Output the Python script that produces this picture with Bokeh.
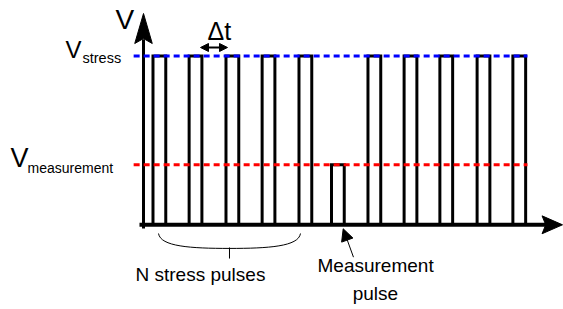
from bokeh.plotting import figure
from bokeh.models import Range1d, Arrow, NormalHead
from bokeh.embed import file_html
from bokeh.resources import INLINE
from bokeh.core.properties import value

# ---- data (time in pulse-period units, voltage normalised to V_stress) ----
pulse_start = [0.26, 1.25, 2.26, 3.25, 4.26, 5.15, 6.15, 7.14, 8.12, 9.14, 10.12]
pulse_kind = ["stress"] * 5 + ["measurement"] + ["stress"] * 5
pulse_width = 0.35
v_stress = 1.0
v_measurement = 0.356
level_span = [-0.27, 10.52]

FONT = "Liberation Sans"
DY = 0.047  # baseline correction for text placement

p = figure(width=563, height=309, output_backend="svg", toolbar_location=None,
           x_range=Range1d(-3.918, 11.507), y_range=Range1d(-0.5021, 1.3296),
           min_border=0, outline_line_color=None)
p.axis.visible = False
p.grid.visible = False
p.background_fill_color = "white"

# pulses
xs, ys = [], []
for s, k in zip(pulse_start, pulse_kind):
    lvl = v_stress if k == "stress" else v_measurement
    xs.append([s, s, s + pulse_width, s + pulse_width])
    ys.append([0, lvl, lvl, 0])
p.multi_line(xs, ys, line_color="black", line_width=3, line_join="miter")

# x axis (baseline) + arrow head
p.line([-0.11, 11.1], [0, 0], line_color="black", line_width=4)
p.patch([10.92, 11.48, 10.92, 11.02], [0.053, 0.0, -0.053, 0.0], color="black")

# y axis + arrow head
p.line([0, 0], [-0.022, 1.10], line_color="black", line_width=3)
p.patch([-0.24, 0.0, 0.24, 0.0], [1.0747, 1.2525, 1.0747, 1.104], color="black")

# reference levels
p.line(level_span, [v_stress, v_stress], line_color="#0000ff", line_width=3, line_dash="6 4")
p.line(level_span, [v_measurement, v_measurement], line_color="#ff0000", line_width=3, line_dash="6 4")

# labels
def txt(x, y, s, size, font=FONT):
    p.text([x], [y + DY], text=[s], text_font=value(font), text_font_size=size,
           text_color="black", text_align="left", text_baseline="alphabetic")

txt(-0.767, 1.170, "V", "28px")
txt(-2.137, 0.991, "V", "24px")
txt(-1.671, 0.944, "stress", "14.5px")
txt(-3.644, 0.3515, "V", "27px")
txt(-3.178, 0.292, "measurement", "14px")
txt(1.753, 1.104, "\u0394t", "25px")
txt(-0.219, -0.342, "N stress pulses", "19px")
txt(4.767, -0.289, "Measurement", "19px")
txt(5.73, -0.455, "pulse", "19px")

# delta-t double arrow
p.add_layout(Arrow(x_start=1.562, y_start=1.051, x_end=2.301, y_end=1.051,
                   line_width=2, line_color="black",
                   start=NormalHead(size=8, fill_color="black", line_color="black"),
                   end=NormalHead(size=8, fill_color="black", line_color="black")))

# brace under stress pulses
p.bezier(x0=[0.411, 2.356], y0=[-0.0516, -0.140], x1=[2.356, 4.301], y1=[-0.140, -0.0516],
         cx0=[0.466, 3.425], cy0=[-0.129, -0.140], cx1=[1.288, 4.247], cy1=[-0.140, -0.129],
         line_color="black", line_width=1)
p.line([2.356, 2.356], [-0.1346, -0.20], line_color="black", line_width=1)

# arrow pointing at measurement pulse
p.add_layout(Arrow(x_start=5.753, y_start=-0.192, x_end=5.471, y_end=-0.0237,
                   line_width=1, line_color="black",
                   end=NormalHead(size=12, fill_color="black", line_color="black")))

open("out.html", "w").write(file_html(p, INLINE))
